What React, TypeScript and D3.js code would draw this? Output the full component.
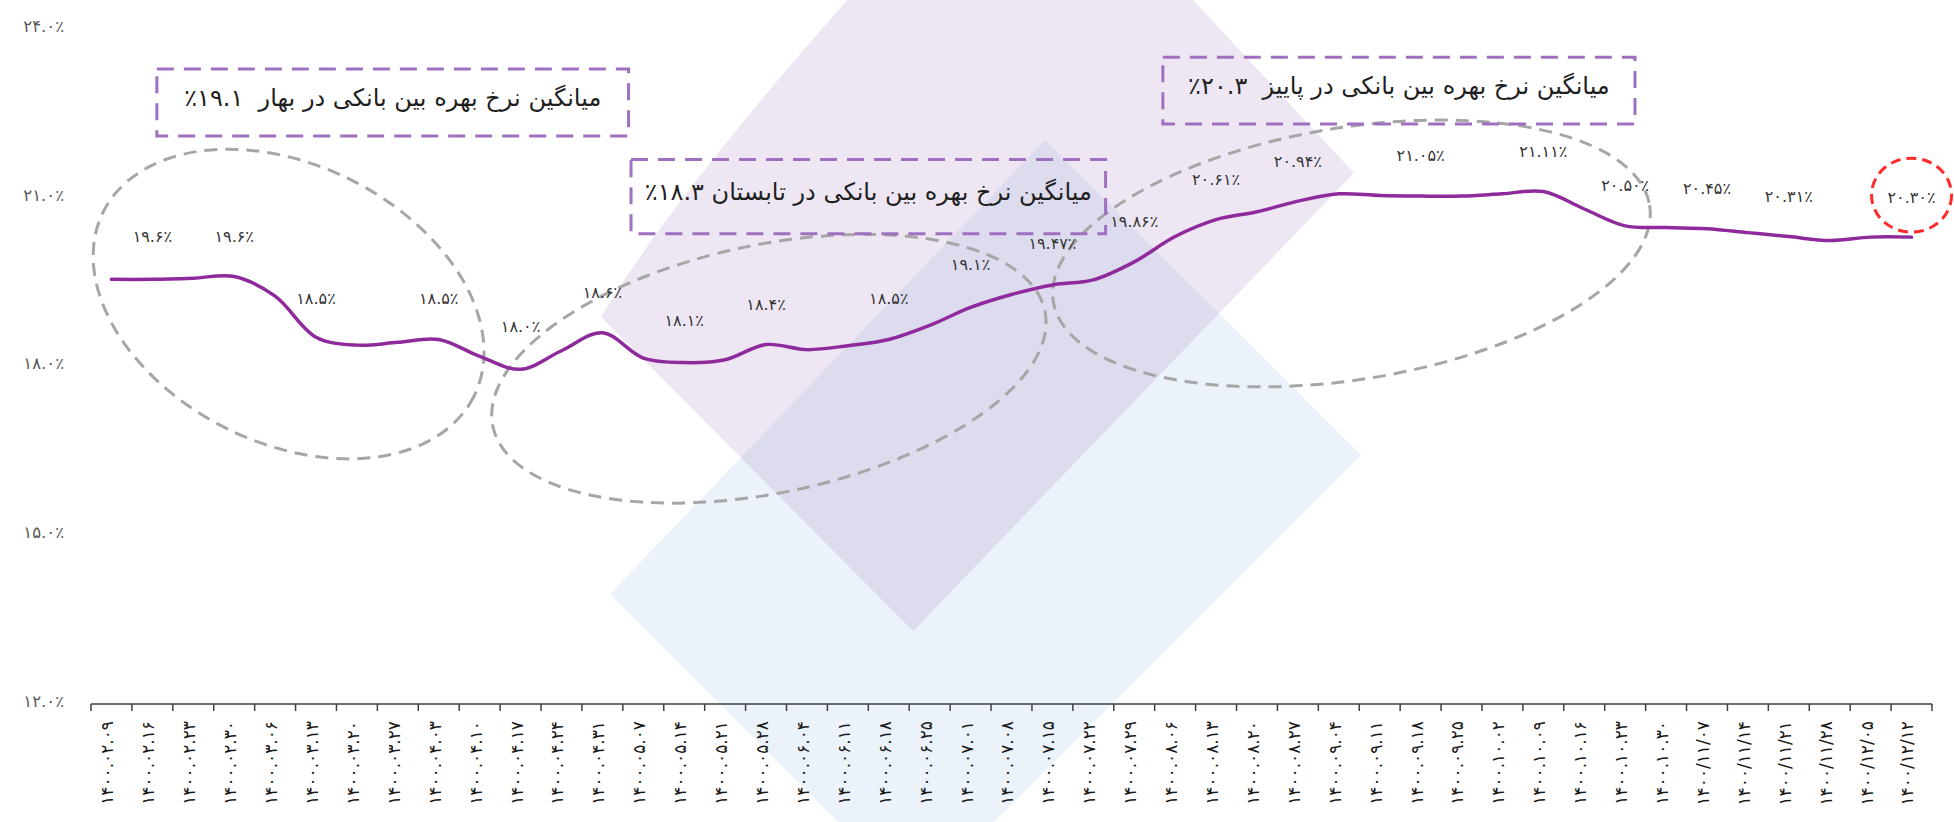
import { useEffect } from 'react';
import * as d3 from 'd3';

const dates = [
  '1400.02.09', '1400.02.16', '1400.02.23', '1400.02.30', '1400.03.06', '1400.03.13', '1400.03.20',
  '1400.03.27', '1400.04.03', '1400.04.10', '1400.04.17', '1400.04.24', '1400.04.31', '1400.05.07',
  '1400.05.14', '1400.05.21', '1400.05.28', '1400.06.04', '1400.06.11', '1400.06.18', '1400.06.25',
  '1400.07.01', '1400.07.08', '1400.07.15', '1400.07.22', '1400.07.29', '1400.08.06', '1400.08.13',
  '1400.08.20', '1400.08.27', '1400.09.04', '1400.09.11', '1400.09.18', '1400.09.25', '1400.10.02',
  '1400.10.09', '1400.10.16', '1400.10.23', '1400.10.30', '1400/11/07', '1400/11/14', '1400/11/21',
  '1400/11/28', '1400/12/05', '1400/12/12',
];

const rates = [
  19.55, 19.55, 19.57, 19.6, 19.25, 18.52, 18.38, 18.43, 18.48, 18.18,
  17.95, 18.28, 18.6, 18.15, 18.07, 18.12, 18.39, 18.3, 18.37, 18.48,
  18.73, 19.05, 19.28, 19.45, 19.54, 19.86, 20.31, 20.61, 20.75, 20.94,
  21.07, 21.04, 21.03, 21.03, 21.07, 21.11, 20.8, 20.5, 20.47, 20.45,
  20.38, 20.31, 20.24, 20.3, 20.3,
];

// which points carry a value label, and the label text
const labelAt = [1, 3, 5, 8, 10, 12, 14, 16, 19, 21, 23, 25, 27, 29, 32, 35, 37, 39, 41, 44];
const labelText = [
  '19.6', '19.6', '18.5', '18.5', '18.0', '18.6', '18.1', '18.4', '18.5', '19.1',
  '19.47', '19.86', '20.61', '20.94', '21.05', '21.11', '20.50', '20.45', '20.31', '20.30',
];

const yTicks = [12, 15, 18, 21, 24];

const seasonNotes = [
  'میانگین نرخ بهره بین بانکی در بهار  ۱۹.۱٪',
  'میانگین نرخ بهره بین بانکی در تابستان ۱۸.۳٪',
  'میانگین نرخ بهره بین بانکی در پاییز  ۲۰.۳٪',
];

// annotation placement, in chart units (u = band edges from the left, v = percent)
const noteBoxes = [
  { u0: 1.61, u1: 13.14, v0: 23.29, v1: 22.1 },
  { u0: 13.2, u1: 24.8, v0: 21.68, v1: 20.36 },
  { u0: 26.2, u1: 37.74, v0: 23.5, v1: 22.31 },
];
const seasonRings = [
  { u: 4.83, v: 19.11, rx: 207, ry: 139, rot: 26.4 },
  { u: 16.57, v: 17.96, rx: 282, ry: 124, rot: -11.8 },
  { u: 30.81, v: 20.01, rx: 302, ry: 126, rot: -9.2 },
];

const fa = (s: string) => s.replace(/\d/g, (d) => '۰۱۲۳۴۵۶۷۸۹'[+d]);

export default function App() {
  const width = 1954;
  const height = 822;

  useEffect(() => {
    document.body.style.margin = '0';
    document.body.style.overflow = 'hidden';
  }, []);

  const x = d3.scaleBand<string>().domain(dates).range([91, 1932]).padding(0);
  const xu = d3.scaleLinear().domain([0, dates.length]).range([91, 1932]);
  const y = d3.scaleLinear().domain([12, 24]).range([704, 29]);
  const xc = (i: number) => (x(dates[i]) as number) + x.bandwidth() / 2;

  const line = d3
    .line<number>()
    .x((d, i) => xc(i))
    .y((d) => y(d))
    .curve(d3.curveCatmullRom.alpha(0.5));

  // watermark logo behind the chart
  const blueShape = 'M610,594 L1045,140 L1361,455 L916,900 Z';
  const purpleShape = 'M601,317 Q700,150 1019,-187 L1354,173 L913,631 Z';

  const last = labelAt[labelAt.length - 1];

  return (
    <svg
      width={width}
      height={height}
      style={{ position: 'absolute', left: 0, top: 0, background: '#fff' }}
      fontFamily="'DejaVu Sans', sans-serif"
    >
      <path d={blueShape} fill="#ebf2fa" />
      <path d={purpleShape} fill="#9d6fb8" fillOpacity={0.17} />

      {/* y axis labels */}
      {yTicks.map((t) => (
        <text key={t} x={64} y={y(t) - 3} dy="0.35em" textAnchor="end" fontSize={16.5} fill="#595959">
          {fa(t.toFixed(1)) + '٪'}
        </text>
      ))}

      {/* season rings */}
      {seasonRings.map((r, i) => (
        <ellipse
          key={i}
          cx={0}
          cy={0}
          rx={r.rx}
          ry={r.ry}
          transform={`translate(${xu(r.u)},${y(r.v)}) rotate(${r.rot})`}
          fill="none"
          stroke="#a6a6a6"
          strokeWidth={3}
          strokeDasharray="13 8"
        />
      ))}

      {/* season boxes */}
      {noteBoxes.map((b, i) => (
        <g key={i}>
          <rect
            x={xu(b.u0)}
            y={y(b.v0)}
            width={xu(b.u1) - xu(b.u0)}
            height={y(b.v1) - y(b.v0)}
            fill="none"
            stroke="#a070c0"
            strokeWidth={3}
            strokeDasharray="17 10"
          />
          <text
            x={(xu(b.u0) + xu(b.u1)) / 2}
            y={(y(b.v0) + y(b.v1)) / 2 - 5}
            dy="0.35em"
            textAnchor="middle"
            direction="rtl"
            fontSize={24}
            fill="#1f1f1f"
            style={{ whiteSpace: 'pre' }}
          >
            {seasonNotes[i]}
          </text>
        </g>
      ))}

      {/* x axis */}
      <line x1={91} x2={1932} y1={704} y2={704} stroke="#404040" strokeWidth={1.5} />
      {d3.range(dates.length + 1).map((i) => (
        <line key={i} x1={xu(i)} x2={xu(i)} y1={704} y2={711} stroke="#404040" strokeWidth={1.5} />
      ))}
      {dates.map((d, i) => (
        <text
          key={d}
          transform={`translate(${xc(i) - 4},721) rotate(-90)`}
          dy="0.35em"
          textAnchor="end"
          fontSize={17}
          fill="#1a1a1a"
        >
          {fa(d)}
        </text>
      ))}

      {/* the rate line */}
      <path d={line(rates) || ''} fill="none" stroke="#8e2a9b" strokeWidth={3.5} strokeLinecap="round" />

      {/* value labels */}
      {labelAt.map((idx, k) => (
        <text
          key={idx}
          x={xc(idx)}
          y={y(+labelText[k]) - 40}
          dy="0.35em"
          textAnchor="middle"
          fontSize={16}
          fill="#333"
        >
          {fa(labelText[k]) + '٪'}
        </text>
      ))}

      {/* highlight the latest value */}
      <ellipse
        cx={xc(last)}
        cy={y(+labelText[labelText.length - 1]) - 42}
        rx={40}
        ry={37}
        fill="none"
        stroke="#ff2a2a"
        strokeWidth={3}
        strokeDasharray="10 6"
      />
    </svg>
  );
}
